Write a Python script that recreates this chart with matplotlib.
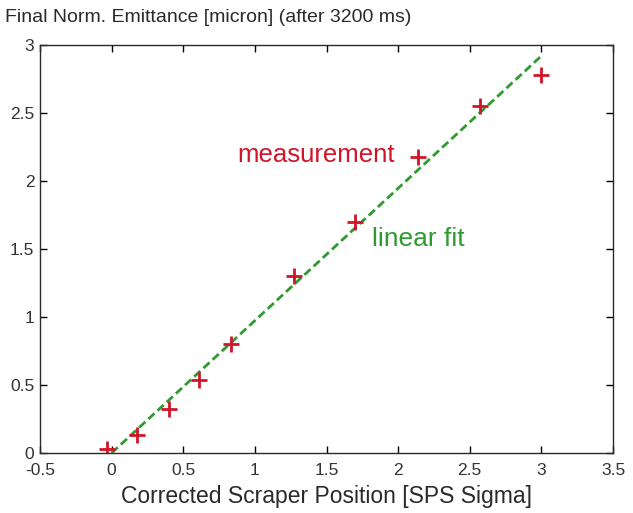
import matplotlib
matplotlib.use("Agg")
import matplotlib.pyplot as plt
import numpy as np

plt.rcParams['font.family'] = ['Liberation Sans', 'DejaVu Sans']

# measured data
scraper_pos = [-0.03, 0.18, 0.40, 0.61, 0.83, 1.27, 1.70, 2.14, 2.57, 3.00]
emittance = [0.03, 0.13, 0.32, 0.54, 0.80, 1.30, 1.70, 2.18, 2.55, 2.78]
# linear fit endpoints
fit_x = [0.0, 3.0]
fit_y = [0.0, 2.92]

x_ticks = [-0.5, 0, 0.5, 1, 1.5, 2, 2.5, 3, 3.5]
x_ticklabels = ['-0.5', '0', '0.5', '1', '1.5', '2', '2.5', '3', '3.5']
y_ticks = [0, 0.5, 1, 1.5, 2, 2.5, 3]
y_ticklabels = ['0', '0.5', '1', '1.5', '2', '2.5', '3']

red = '#d0152a'
green = '#2f9a2f'
dark = '#2a2a2a'

fig = plt.figure(figsize=(6.33, 5.13), dpi=100)
ax = fig.add_axes([40/633, 60/513, 573/633, 408/513])

ax.plot(fit_x, fit_y, linestyle=(0, (3, 1.5)), color=green, linewidth=2)
ax.plot(scraper_pos, emittance, linestyle='none', marker='+', color=red,
        markersize=11, markeredgewidth=2)

ax.set_xlim(-0.5, 3.5)
ax.set_ylim(0, 3)
ax.set_xticks(x_ticks)
ax.set_xticklabels(x_ticklabels)
ax.set_yticks(y_ticks)
ax.set_yticklabels(y_ticklabels)
ax.tick_params(direction='in', length=5, width=1, top=True, right=True,
               labelsize=12.5, labelcolor='#333333')
ax.tick_params(axis='x', pad=7)
ax.tick_params(axis='y', pad=4)
for s in ax.spines.values():
    s.set_linewidth(1)
    s.set_color(dark)

ax.set_xlabel('Corrected Scraper Position [SPS Sigma]', fontsize=16.5,
              color=dark, labelpad=5)
fig.text(5/633, 1 - 18/513, 'Final Norm. Emittance [micron] (after 3200 ms)',
         fontsize=14, color=dark, ha='left', va='center')

ax.text(0.88, 2.19, 'measurement', color=red, fontsize=18.5, ha='left', va='center')
ax.text(1.82, 1.575, 'linear fit', color=green, fontsize=19, ha='left', va='center')

fig.savefig('out.png', dpi=100)
